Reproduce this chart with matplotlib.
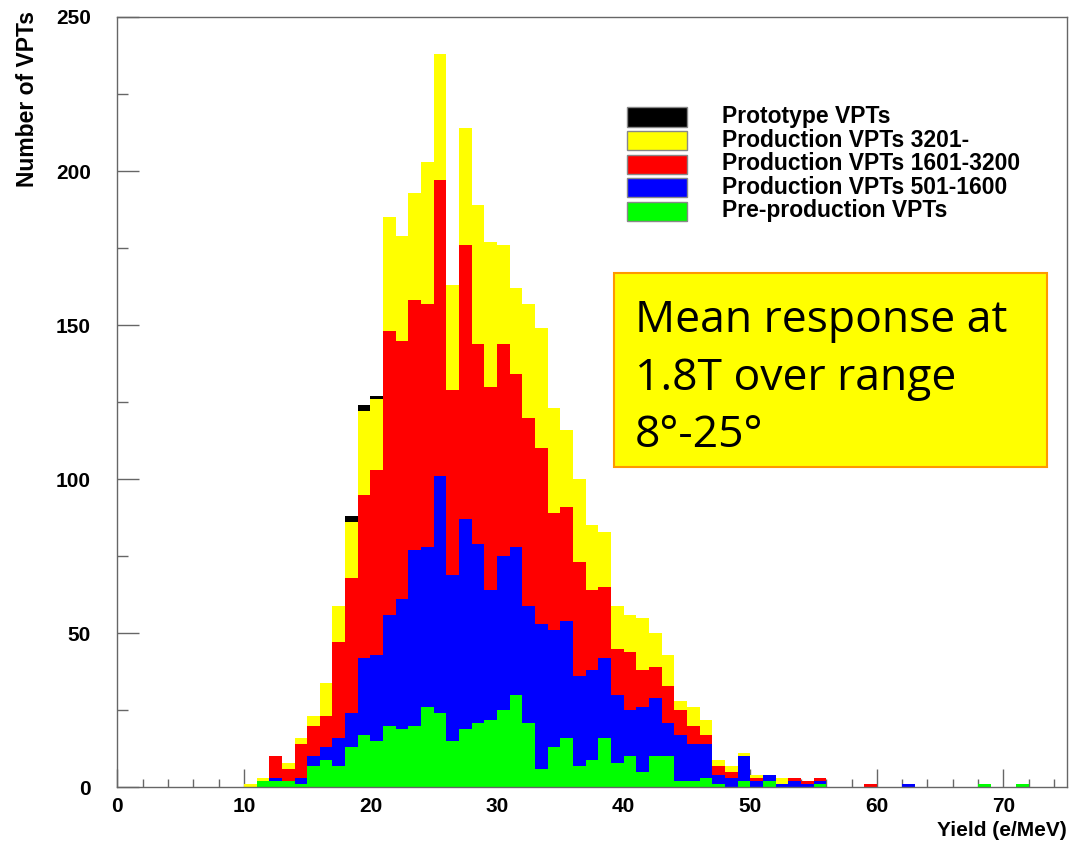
# Stacked VPT yield histogram (ROOT-style), 1 e/MeV bins from 10 to 72.
import matplotlib
matplotlib.use("Agg")
import matplotlib.pyplot as plt
import numpy as np
from matplotlib.patches import Rectangle

# counts per 1 e/MeV bin, first bin starts at yield 10
first_bin = 10
green = [0, 2, 2, 2, 1, 7, 9, 7, 13, 17, 15, 20, 19, 20, 26, 24, 15, 19, 21, 22,
         25, 30, 21, 6, 13, 16, 7, 9, 16, 8, 10, 5, 10, 10, 2, 2, 3, 1, 0, 2,
         0, 2, 0, 0, 0, 1, 0, 0, 0, 0, 0, 0, 0, 0, 0, 0, 0, 0, 1, 0, 0, 1]
blue = [0, 0, 1, 0, 2, 3, 4, 9, 11, 25, 28, 36, 42, 57, 52, 77, 54, 68, 58, 42,
        50, 48, 38, 47, 38, 38, 29, 29, 26, 22, 15, 21, 19, 11, 15, 12, 11, 3, 3, 8,
        2, 2, 1, 2, 1, 1, 0, 0, 0, 0, 0, 0, 1, 0, 0, 0, 0, 0, 0, 0, 0, 0]
red = [0, 0, 7, 4, 11, 10, 10, 31, 44, 53, 60, 92, 84, 81, 79, 96, 60, 89, 65, 66,
       69, 56, 61, 57, 38, 37, 37, 26, 23, 15, 19, 12, 10, 12, 8, 6, 3, 3, 2, 0,
       1, 0, 0, 1, 1, 1, 0, 0, 0, 1, 0, 0, 0, 0, 0, 0, 0, 0, 0, 0, 0, 0]
yellow = [1, 1, 0, 2, 2, 3, 11, 12, 18, 27, 23, 37, 34, 35, 46, 41, 34, 38, 45, 47,
          32, 28, 37, 39, 34, 25, 27, 21, 18, 14, 12, 17, 11, 10, 3, 6, 5, 2, 2, 1,
          1, 0, 2, 0, 0, 0, 0, 0, 0, 0, 0, 0, 0, 0, 0, 0, 0, 0, 0, 0, 0, 0]
black = [0, 0, 0, 0, 0, 0, 0, 0, 2, 2, 1, 0, 0, 0, 0, 0, 0, 0, 0, 0,
         0, 0, 0, 0, 0, 0, 0, 0, 0, 0, 0, 0, 0, 0, 0, 0, 0, 0, 0, 0,
         0, 0, 0, 0, 0, 0, 0, 0, 0, 0, 0, 0, 0, 0, 0, 0, 0, 0, 0, 0, 0, 0]

# stacked bottom -> top, legend lists top -> bottom
series = [green, blue, red, yellow, black]
colors = ["#00ff00", "#0000ff", "#ff0000", "#ffff00", "#000000"]
labels = ["Pre-production VPTs", "Production VPTs 501-1600",
          "Production VPTs 1601-3200", "Production VPTs 3201-", "Prototype VPTs"]

W, H = 1072, 860
fig = plt.figure(figsize=(W / 100, H / 100), dpi=100)
ax = fig.add_axes([117.3 / W, 1 - 787.3 / H, 949.4 / W, 770.3 / H])

edges = np.arange(first_bin, first_bin + len(green) + 1)
base = np.zeros(len(green))
for vals, c in zip(series, colors):
    top = base + np.array(vals)
    ax.stairs(top, edges, baseline=base, fill=True, color=c, lw=0, zorder=2)
    base = top

ax.set_xlim(0, 75)
ax.set_ylim(0, 250)
ax.set_xticks(np.arange(0, 71, 10))
ax.set_xticks(np.arange(0, 75, 2), minor=True)
ax.set_yticks(np.arange(0, 251, 50))
ax.set_yticks(np.arange(0, 251, 25), minor=True)
frame = "#666666"
for s in ax.spines.values():
    s.set_color(frame)
    s.set_linewidth(1.0)
ax.tick_params(which="both", direction="in", colors=frame, width=1.0,
               top=False, right=False)
ax.tick_params(axis="x", which="major", length=13, pad=7)
ax.tick_params(axis="x", which="minor", length=6)
ax.tick_params(axis="y", which="major", length=16, pad=19)
ax.tick_params(axis="y", which="minor", length=8)
for lab in ax.get_xticklabels() + ax.get_yticklabels():
    lab.set_fontfamily("Liberation Sans")
    lab.set_fontweight("bold")
    lab.set_fontsize(15)
    lab.set_color("black")

def fx(x):
    return x / W

def fy(y):
    return 1 - y / H

fig.text(fx(28), fy(11), "Number of VPTs", rotation=90, ha="center", va="top",
         fontsize=16.5, family="Liberation Sans", fontweight="bold")
fig.text(fx(1067), fy(831), "Yield (e/MeV)", ha="right", va="center",
         fontsize=15, family="Liberation Sans", fontweight="bold")

# legend, drawn by hand in the ROOT layout
row_y = [117, 140.5, 164, 187.5, 211]
for yy, c, lab in zip(row_y, colors[::-1], labels[::-1]):
    fig.patches.append(Rectangle((fx(627), fy(yy + 9.5)), 60 / W, 19 / H,
                                 transform=fig.transFigure, facecolor=c,
                                 edgecolor="#888888", lw=1.0))
    fig.text(fx(722), fy(yy), lab, ha="left", va="center", fontsize=16.5,
             family="Liberation Sans", fontweight="bold")

# annotation box
fig.patches.append(Rectangle((fx(614), fy(466.7)), 432.7 / W, 194 / H,
                             transform=fig.transFigure, facecolor="#ffff00",
                             edgecolor="#ff9900", lw=1.5, zorder=5))
for yy, line in zip([331.7, 390, 446.7],
                    ["Mean response at", "1.8T over range", "8°-25°"]):
    fig.text(fx(635), fy(yy), line, ha="left", va="baseline", fontsize=32,
             family="Open Sans", zorder=6)

fig.savefig("out.png", dpi=100, facecolor="white")
